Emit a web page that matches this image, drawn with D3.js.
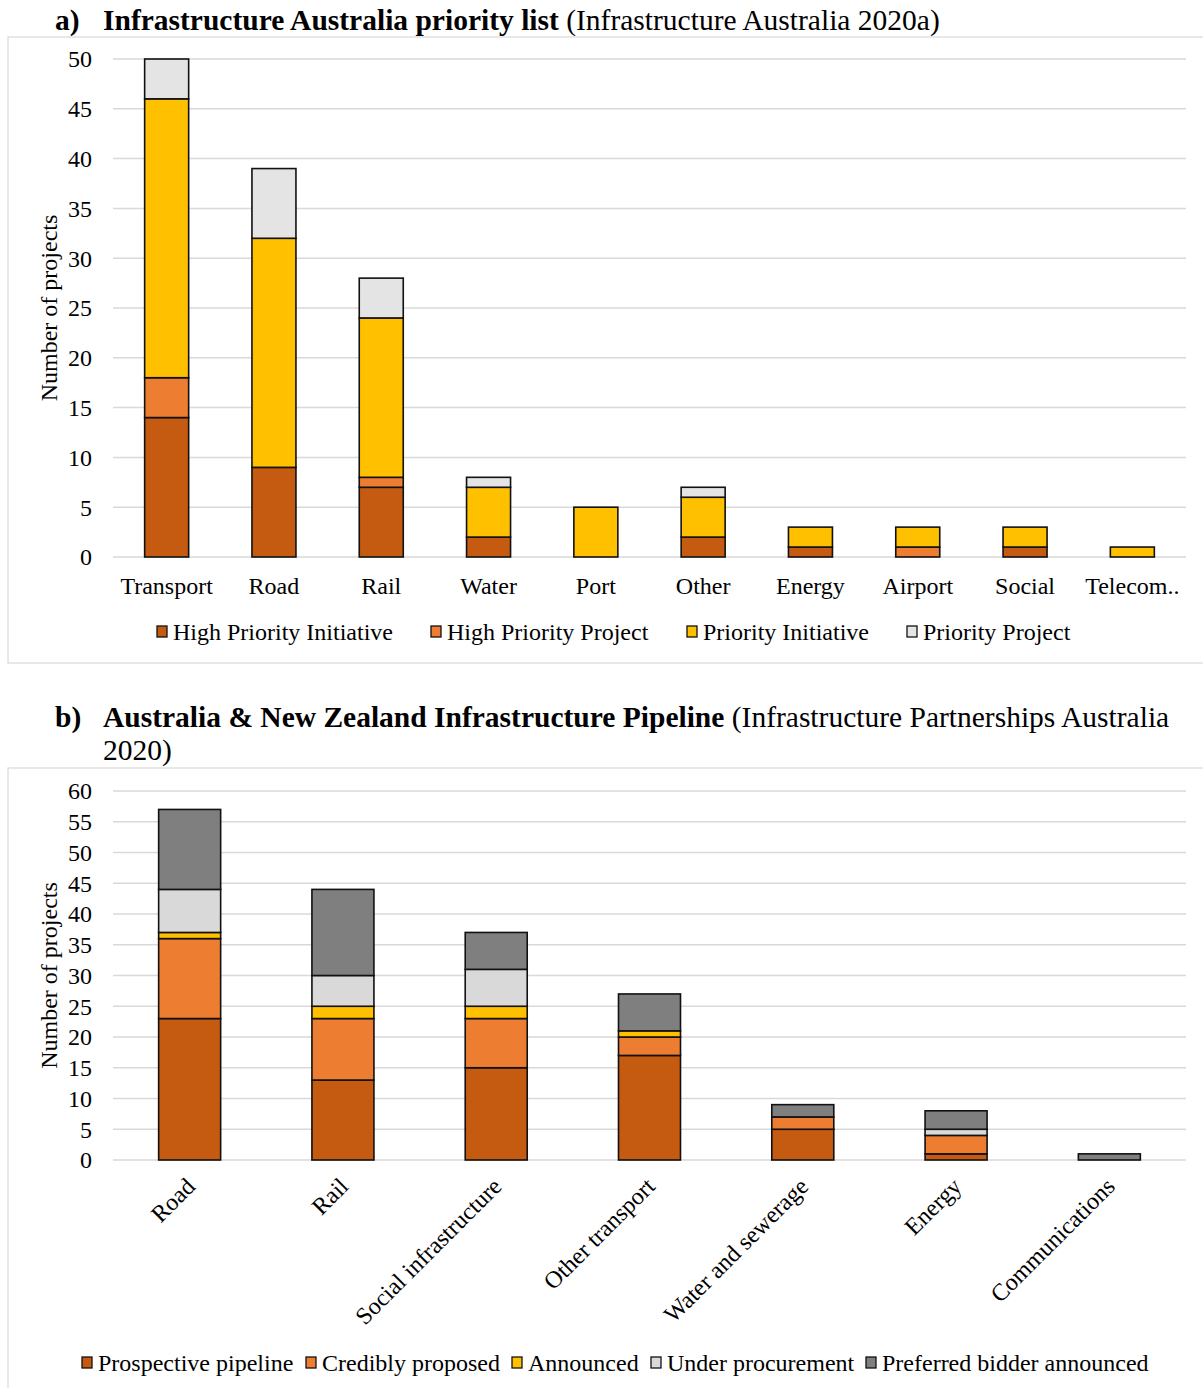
<!DOCTYPE html>
<html>
<head>
<meta charset="utf-8">
<script src="https://cdn.jsdelivr.net/npm/d3@7"></script>
<style>
  html, body { margin: 0; padding: 0; background: #fff; }
  svg { display: block; font-family: "Liberation Serif", "Times New Roman", serif; }
</style>
</head>
<body>
<svg id="chart" width="1203" height="1388"></svg>
<script>
// Panel a: Infrastructure Australia priority list
const catsA = ["Transport", "Road", "Rail", "Water", "Port", "Other", "Energy", "Airport", "Social", "Telecom.."];
const seriesA = ["High Priority Initiative", "High Priority Project", "Priority Initiative", "Priority Project"];
const highPriorityInitiative = [14, 9, 7, 2, 0, 2, 1, 0, 1, 0];
const highPriorityProject    = [4, 0, 1, 0, 0, 0, 0, 1, 0, 0];
const priorityInitiative     = [28, 23, 16, 5, 5, 4, 2, 2, 2, 1];
const priorityProject        = [4, 7, 4, 1, 0, 1, 0, 0, 0, 0];
const colorsA = ["#C55A11", "#ED7D31", "#FFC000", "#E4E4E4"];
const ticksA = [0, 5, 10, 15, 20, 25, 30, 35, 40, 45, 50];

// Panel b: Australia & New Zealand Infrastructure Pipeline
const catsB = ["Road", "Rail", "Social infrastructure", "Other transport", "Water and sewerage", "Energy", "Communications"];
const seriesB = ["Prospective pipeline", "Credibly proposed", "Announced", "Under procurement", "Preferred bidder announced"];
const prospectivePipeline = [23, 13, 15, 17, 5, 1, 0];
const crediblyProposed    = [13, 10, 8, 3, 2, 3, 0];
const announced           = [1, 2, 2, 1, 0, 0, 0];
const underProcurement    = [7, 5, 6, 0, 0, 1, 0];
const preferredBidder     = [13, 14, 6, 6, 2, 3, 1];
const colorsB = ["#C55A11", "#ED7D31", "#FFC000", "#D9D9D9", "#7F7F7F"];
const ticksB = [0, 5, 10, 15, 20, 25, 30, 35, 40, 45, 50, 55, 60];

const svg = d3.select("#chart");
const gridColor = "#D9D9D9";

function stackRows(cats, seriesNames, valueArrays) {
  return cats.map((c, i) => {
    const row = { cat: c };
    seriesNames.forEach((s, j) => row[s] = valueArrays[j][i]);
    return row;
  });
}

function drawPanel(opt) {
  const g = svg.append("g");
  // outer frame
  g.append("rect")
    .attr("x", opt.frame[0]).attr("y", opt.frame[1])
    .attr("width", opt.frame[2]).attr("height", opt.frame[3])
    .attr("fill", "none").attr("stroke", gridColor).attr("stroke-width", 1.2);

  const x = d3.scaleBand().domain(opt.cats).range([opt.left, opt.right]).paddingInner(opt.pad).paddingOuter(opt.pad / 2);
  const y = d3.scaleLinear().domain([0, opt.max]).range([opt.bottom, opt.top]);

  // gridlines
  g.append("g").selectAll("line").data(opt.ticks).join("line")
    .attr("x1", opt.left).attr("x2", opt.right)
    .attr("y1", d => y(d)).attr("y2", d => y(d))
    .attr("stroke", gridColor).attr("stroke-width", 1.5);

  // y axis labels
  const yAxis = d3.axisLeft(y).tickValues(opt.ticks).tickSize(0).tickPadding(0);
  const ya = g.append("g").attr("transform", `translate(${opt.tickX},0)`).call(yAxis);
  ya.select(".domain").remove();
  ya.selectAll("text").attr("font-size", 24).attr("font-family", "Liberation Serif").attr("fill", "#000").attr("dy", "0.33em");

  // y axis title
  g.append("text")
    .attr("transform", `translate(${opt.yTitleX},${(opt.top + opt.bottom) / 2}) rotate(-90)`)
    .attr("text-anchor", "middle").attr("font-size", 24).text("Number of projects");

  // stacked bars
  const rows = stackRows(opt.cats, opt.series, opt.values);
  const stacked = d3.stack().keys(opt.series)(rows);
  const bw = opt.barWidth;
  g.append("g").selectAll("g").data(stacked).join("g")
    .attr("fill", (d, i) => opt.colors[i])
    .selectAll("rect").data(d => d.filter(p => p[1] - p[0] > 0)).join("rect")
      .attr("x", d => x(d.data.cat) + x.bandwidth() / 2 - bw / 2)
      .attr("width", bw)
      .attr("y", d => y(d[1]))
      .attr("height", d => y(d[0]) - y(d[1]))
      .attr("stroke", "#111").attr("stroke-width", 1.6);

  // x axis labels
  const xl = g.append("g");
  opt.cats.forEach(c => {
    const cx = x(c) + x.bandwidth() / 2;
    if (opt.rotate) {
      xl.append("text")
        .attr("transform", `translate(${cx - 5},${opt.bottom + 16}) rotate(-45)`)
        .attr("text-anchor", "end").attr("dy", "0.7em").attr("font-size", 24).text(c);
    } else {
      xl.append("text").attr("x", cx).attr("y", opt.bottom + 37)
        .attr("text-anchor", "middle").attr("font-size", 24).text(c);
    }
  });

  // legend
  const lg = g.append("g");
  opt.series.forEach((s, i) => {
    const lx = opt.legendX[i];
    lg.append("rect").attr("x", lx).attr("y", opt.legendY - 6).attr("width", 10).attr("height", 11)
      .attr("fill", opt.colors[i]).attr("stroke", "#111").attr("stroke-width", 1.3);
    lg.append("text").attr("x", lx + 16).attr("y", opt.legendY + 8).attr("font-size", 24).text(s);
  });
}

// titles
function title(y, letter, bold, rest, rest2) {
  const t = svg.append("text").attr("y", y).attr("font-size", 29.5);
  t.append("tspan").attr("x", 55).attr("font-weight", "bold").text(letter);
  t.append("tspan").attr("x", 103).attr("font-weight", "bold").text(bold);
  t.append("tspan").attr("font-weight", "normal").text(" " + rest);
  if (rest2) svg.append("text").attr("x", 103).attr("y", y + 33).attr("font-size", 29.5).text(rest2);
}
title(30, "a)", "Infrastructure Australia priority list", "(Infrastructure Australia 2020a)");
title(727, "b)", "Australia & New Zealand Infrastructure Pipeline", "(Infrastructure Partnerships Australia", "2020)");

drawPanel({
  frame: [8, 37, 1205, 626],
  cats: catsA, series: seriesA, colors: colorsA, ticks: ticksA, max: 50,
  values: [highPriorityInitiative, highPriorityProject, priorityInitiative, priorityProject],
  left: 113, right: 1186, top: 59, bottom: 557, pad: 0.59, barWidth: 44,
  tickX: 92, yTitleX: 57, rotate: false,
  legendX: [157, 431, 687, 907], legendY: 632
});

drawPanel({
  frame: [8, 768, 1205, 630],
  cats: catsB, series: seriesB, colors: colorsB, ticks: ticksB, max: 60,
  values: [prospectivePipeline, crediblyProposed, announced, underProcurement, preferredBidder],
  left: 113, right: 1186, top: 791, bottom: 1160, pad: 0.6, barWidth: 62,
  tickX: 92, yTitleX: 57, rotate: true,
  legendX: [82, 306, 512, 651, 866], legendY: 1363
});
</script>
</body>
</html>
